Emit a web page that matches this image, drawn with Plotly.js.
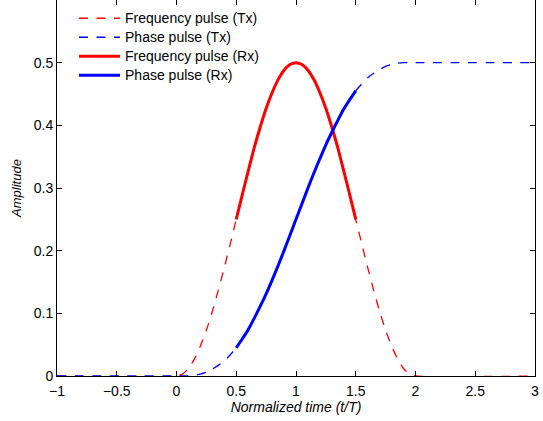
<!DOCTYPE html>
<html><head><meta charset="utf-8">
<script src="https://cdn.plot.ly/plotly-3.0.1.min.js"></script>
<style>html,body{margin:0;padding:0;background:#fff}</style>
</head><body>
<div id="chart" style="width:543px;height:421px"></div>
<script>
// Normalized time samples (t/T)
var timeTx = [-1, 0, 0.05, 0.1, 0.15, 0.2, 0.25, 0.3, 0.35, 0.4, 0.45, 0.5, 0.55, 0.6, 0.65, 0.7, 0.75, 0.8, 0.85, 0.9, 0.95, 1.0,
  1.05, 1.1, 1.15, 1.2, 1.25, 1.3, 1.35, 1.4, 1.45, 1.5, 1.55, 1.6, 1.65, 1.7, 1.75, 1.8, 1.85, 1.9, 1.95, 2.0, 3];
// Frequency pulse amplitude
var freqPulse = [0, 0, 0.003, 0.012, 0.027, 0.048, 0.073, 0.103, 0.137, 0.173, 0.211, 0.250, 0.289, 0.327, 0.364, 0.397, 0.427, 0.452, 0.473, 0.488, 0.497, 0.500,
  0.497, 0.488, 0.473, 0.452, 0.427, 0.397, 0.364, 0.327, 0.289, 0.250, 0.211, 0.173, 0.137, 0.103, 0.073, 0.048, 0.027, 0.012, 0.003, 0, 0];
// Phase pulse amplitude
var phasePulse = [0, 0, 0.000, 0.000, 0.001, 0.003, 0.006, 0.011, 0.017, 0.024, 0.034, 0.045, 0.059, 0.074, 0.092, 0.111, 0.131, 0.153, 0.176, 0.200, 0.225, 0.250,
  0.275, 0.300, 0.324, 0.347, 0.369, 0.389, 0.408, 0.426, 0.441, 0.455, 0.466, 0.476, 0.483, 0.489, 0.494, 0.497, 0.499, 0.500, 0.500, 0.500, 0.500];
// Receiver window
var rxStart = 0.5, rxEnd = 1.5;
var xTicks = [-1, -0.5, 0, 0.5, 1, 1.5, 2, 2.5, 3];
var yTicks = [0, 0.1, 0.2, 0.3, 0.4, 0.5, 0.6];
var names = ['Frequency pulse (Tx)', 'Phase pulse (Tx)', 'Frequency pulse (Rx)', 'Phase pulse (Rx)'];

var rxIdx = [];
timeTx.forEach(function(t, i){ if (t >= rxStart - 1e-9 && t <= rxEnd + 1e-9) rxIdx.push(i); });
var timeRx = rxIdx.map(function(i){ return timeTx[i]; });
var freqRx = rxIdx.map(function(i){ return freqPulse[i]; });
var phaseRx = rxIdx.map(function(i){ return phasePulse[i]; });

function legName(s){ return '<span style="font-size:14px">' + s + '</span>'; }

var traces = [
  {x: timeTx, y: freqPulse, mode: 'lines', name: legName(names[0]), line: {color: '#ff0000', width: 1.3, dash: '9px,8.5px', shape: 'spline', smoothing: 0.6}},
  {x: timeTx, y: phasePulse, mode: 'lines', name: legName(names[1]), line: {color: '#0000ff', width: 1.3, dash: '9px,8.5px', shape: 'spline', smoothing: 0.6}},
  {x: timeRx, y: freqRx, mode: 'lines', name: legName(names[2]), line: {color: '#ff0000', width: 3, shape: 'spline', smoothing: 0.6}},
  {x: timeRx, y: phaseRx, mode: 'lines', name: legName(names[3]), line: {color: '#0000ff', width: 3, shape: 'spline', smoothing: 0.6}}
];

var axisFont = {family: 'Liberation Sans, Arial, sans-serif', size: 14, color: '#000'};
var layout = {
  width: 543, height: 421,
  margin: {l: 57, r: 8, t: 0, b: 45},
  paper_bgcolor: '#fff', plot_bgcolor: '#fff',
  font: axisFont,
  showlegend: true,
  legend: {x: 0.0356, y: 0.99, xanchor: 'left', yanchor: 'top', bgcolor: 'rgba(0,0,0,0)', borderwidth: 0,
    font: {family: 'Liberation Sans, Arial, sans-serif', size: 11, color: '#000'}, tracegroupgap: 0, itemwidth: 41},
  xaxis: {range: [-1, 3], tickvals: xTicks, ticktext: xTicks.map(function(v){ return v < 0 ? '\u2212' + Math.abs(v) : String(v); }),
    ticks: 'inside', ticklen: 5, tickcolor: '#000', mirror: 'ticks', showline: true, linecolor: '#000', linewidth: 1,
    showgrid: false, zeroline: false, tickfont: axisFont, ticklabelstandoff: 2,
    title: {text: '<i>Normalized time (t/T)</i>', font: axisFont, standoff: 2}},
  yaxis: {range: [0, 0.6], tickvals: yTicks, ticks: 'inside', ticklen: 5, tickcolor: '#000', mirror: 'ticks', showline: true,
    linecolor: '#000', linewidth: 1, showgrid: false, zeroline: false, tickfont: axisFont,
    title: {text: '<i>Amplitude</i>', font: {family: 'Liberation Sans, Arial, sans-serif', size: 13, color: '#000'}, standoff: 9}}
};
Plotly.newPlot('chart', traces, layout, {displayModeBar: false, staticPlot: true});
</script>
</body></html>
